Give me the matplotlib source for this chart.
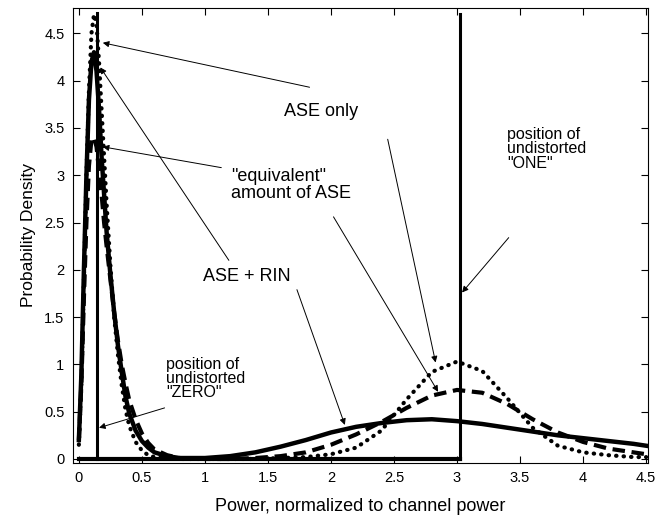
import matplotlib
matplotlib.use("Agg")
import matplotlib.pyplot as plt

plt.rcParams['font.family'] = ['Liberation Sans', 'DejaVu Sans']

# power grid (normalized to channel power)
power = [0, 0.02, 0.04, 0.06, 0.08, 0.10, 0.12, 0.14, 0.16, 0.18, 0.20, 0.22,
         0.25, 0.28, 0.31, 0.34, 0.37, 0.40, 0.45, 0.50, 0.55, 0.60, 0.70, 0.80,
         1.0, 1.2, 1.4, 1.6, 1.8, 2.0, 2.2, 2.4, 2.6, 2.8, 3.0, 3.2, 3.4, 3.6,
         3.8, 4.0, 4.2, 4.4, 4.5]

# ASE + RIN (solid)
pdf_ase_rin = [0.2, 0.9, 2.0, 3.0, 3.8, 4.2, 4.3, 4.1, 3.7, 3.2, 2.8, 2.4,
               1.95, 1.55, 1.2, 0.92, 0.66, 0.48, 0.3, 0.19, 0.12, 0.07, 0.03, 0.01,
               0.01, 0.03, 0.07, 0.13, 0.2, 0.28, 0.34, 0.38, 0.41, 0.42, 0.40, 0.37,
               0.33, 0.29, 0.25, 0.22, 0.19, 0.16, 0.14]

# "equivalent" amount of ASE (dashed)
pdf_equiv = [0.2, 0.8, 1.7, 2.5, 3.1, 3.38, 3.4, 3.3, 3.05, 2.8, 2.5, 2.25,
             1.9, 1.55, 1.25, 1.0, 0.8, 0.62, 0.42, 0.27, 0.17, 0.1, 0.04, 0.01,
             0.0, 0.0, 0.01, 0.03, 0.07, 0.15, 0.26, 0.39, 0.54, 0.67, 0.73, 0.7,
             0.58, 0.42, 0.28, 0.18, 0.11, 0.07, 0.05]

# ASE only (dotted)
pdf_ase = [0.15, 0.8, 1.9, 3.0, 3.9, 4.5, 4.7, 4.6, 4.2, 3.7, 3.2, 2.7,
           2.05, 1.5, 1.1, 0.78, 0.52, 0.35, 0.18, 0.09, 0.04, 0.02, 0.01, 0.0,
           0.0, 0.0, 0.0, 0.01, 0.02, 0.05, 0.12, 0.3, 0.63, 0.92, 1.03, 0.93,
           0.64, 0.33, 0.14, 0.07, 0.04, 0.02, 0.02]

# undistorted symbol positions
zero_pos = 0.14
one_pos = 3.02
delta_top = 4.72

fig = plt.figure(figsize=(6.56, 5.19), dpi=100)
ax = fig.add_axes([0.111, 0.108, 0.877, 0.877])

# undistorted levels
ax.plot([zero_pos, zero_pos], [0, delta_top], color='black', lw=2.2)
ax.plot([one_pos, one_pos], [0, delta_top - 0.02], color='black', lw=2.2)
ax.plot([0, one_pos], [0, 0], color='black', lw=3)

ax.plot(power, pdf_ase_rin, color='black', lw=3.2)
ax.plot(power, pdf_equiv, color='black', lw=3, linestyle=(0, (3, 1.6)))
ax.plot(power, pdf_ase, color='black', lw=3, linestyle=(0, (0.1, 1.7)),
        dash_capstyle='round')

ax.set_xlim(-0.048, 4.516)
ax.set_ylim(-0.042, 4.77)
ax.set_xticks([0, 0.5, 1, 1.5, 2, 2.5, 3, 3.5, 4, 4.5])
ax.set_xticklabels(['0', '0.5', '1', '1.5', '2', '2.5', '3', '3.5', '4', '4.5'])
ax.set_yticks([0, 0.5, 1, 1.5, 2, 2.5, 3, 3.5, 4, 4.5])
ax.set_yticklabels(['0', '0.5', '1', '1.5', '2', '2.5', '3', '3.5', '4', '4.5'])
ax.tick_params(direction='in', top=True, right=True, length=5, width=0.8,
               labelsize=10.5, pad=6)
for s in ax.spines.values():
    s.set_linewidth(0.8)

ax.set_xlabel('Power, normalized to channel power', fontsize=13, labelpad=9)
ax.set_ylabel('Probability Density', fontsize=12.5, labelpad=6)

arrow = dict(arrowstyle='-|>', lw=0.7, color='black', mutation_scale=9,
             shrinkA=0, shrinkB=0)

# labels
ax.text(1.92, 3.67, 'ASE only', fontsize=13, ha='center', va='center')
ax.annotate('', xy=(0.19, 4.40), xytext=(1.83, 3.93), arrowprops=arrow)
ax.annotate('', xy=(2.83, 1.02), xytext=(2.45, 3.38), arrowprops=arrow)

ax.text(1.21, 2.9, '"equivalent"\namount of ASE', fontsize=13, ha='left',
        va='center', linespacing=1.0)
ax.annotate('', xy=(0.19, 3.30), xytext=(1.13, 3.08), arrowprops=arrow)
ax.annotate('', xy=(2.85, 0.71), xytext=(2.02, 2.56), arrowprops=arrow)

ax.text(1.33, 1.93, 'ASE + RIN', fontsize=13, ha='center', va='center')
ax.annotate('', xy=(0.17, 4.14), xytext=(1.19, 2.10), arrowprops=arrow)
ax.annotate('', xy=(2.11, 0.36), xytext=(1.73, 1.79), arrowprops=arrow)

ax.text(3.40, 3.28, 'position of\nundistorted\n"ONE"', fontsize=11.5,
        ha='left', va='center', linespacing=0.95)
ax.annotate('', xy=(3.04, 1.76), xytext=(3.41, 2.34), arrowprops=arrow)

ax.text(0.69, 0.85, 'position of\nundistorted\n"ZERO"', fontsize=11.5,
        ha='left', va='center', linespacing=0.95)
ax.annotate('', xy=(0.16, 0.33), xytext=(0.68, 0.54), arrowprops=arrow)

fig.savefig('out.png', dpi=100)
